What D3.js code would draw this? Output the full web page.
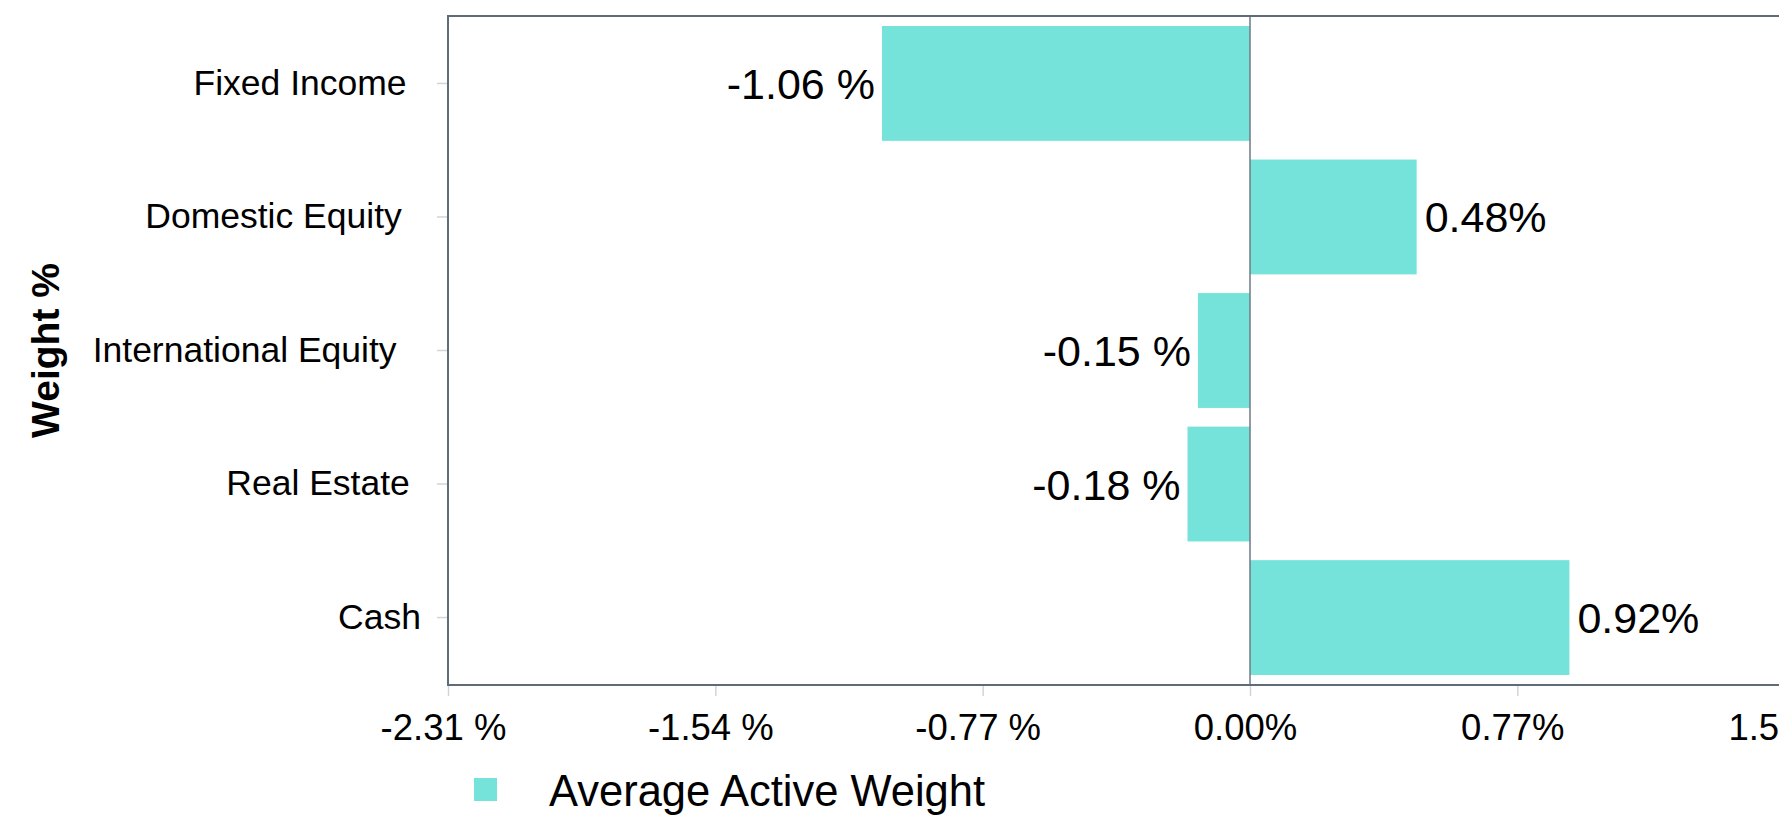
<!DOCTYPE html>
<html>
<head>
<meta charset="utf-8">
<script src="https://cdn.jsdelivr.net/npm/d3@7/dist/d3.min.js"></script>
<style>
  html, body { margin: 0; padding: 0; background: #fff; overflow: hidden; }
  svg { display: block; font-family: "Liberation Sans", Arial, Helvetica, sans-serif; }
</style>
</head>
<body>
<svg id="chart" width="2100" height="817"></svg>
<script>
const categories = ["Fixed Income", "Domestic Equity", "International Equity", "Real Estate", "Cash"];
const values = [-1.06, 0.48, -0.15, -0.18, 0.92];
const tickValues = [-2.31, -1.54, -0.77, 0, 0.77, 1.54, 2.31];
const tickLabels = ["-2.31 %", "-1.54 %", "-0.77 %", "0.00%", "0.77%", "1.54%", "2.31%"];
const seriesName = "Average Active Weight";
const yTitle = "Weight %";

const fmt = v => v < 0 ? v.toFixed(2) + " %" : v.toFixed(2) + "%";

const svg = d3.select("#chart");
const margin = { left: 448, top: 16, right: 48, bottom: 132 };
const W = 2100, H = 817;
const plotW = W - margin.left - margin.right;
const plotH = H - margin.top - margin.bottom;

const x = d3.scaleLinear().domain([-2.31, 2.31]).range([margin.left, margin.left + plotW]);
const y = d3.scaleBand().domain(categories).range([margin.top, margin.top + plotH])
  .paddingInner(0.14).paddingOuter(0.075);

const color = "#75e3d9";
const borderColor = "#5f6b78";

// bars
svg.append("g").selectAll("rect").data(values).join("rect")
  .attr("x", d => x(Math.min(0, d)))
  .attr("width", d => Math.abs(x(d) - x(0)))
  .attr("y", (d, i) => y(categories[i]))
  .attr("height", y.bandwidth())
  .attr("fill", color);

// zero line
svg.append("line")
  .attr("x1", x(0)).attr("x2", x(0))
  .attr("y1", margin.top).attr("y2", margin.top + plotH)
  .attr("stroke", "#6e7a86").attr("stroke-width", 1.5);

// plot border
svg.append("rect")
  .attr("x", margin.left).attr("y", margin.top)
  .attr("width", plotW).attr("height", plotH)
  .attr("fill", "none").attr("stroke", borderColor).attr("stroke-width", 2);

// x axis
const xAxis = d3.axisBottom(x).tickValues(tickValues)
  .tickFormat((d, i) => tickLabels[i]).tickSize(10).tickPadding(18);
const gx = svg.append("g").attr("transform", `translate(0,${margin.top + plotH + 1})`).call(xAxis);
gx.select(".domain").remove();
gx.selectAll(".tick line").attr("stroke", "#d4d4d4").attr("stroke-width", 1.5);
gx.selectAll(".tick text").attr("fill", "#000").style("font-size", "36.5px").attr("dx", -5);

// y axis
const yAxis = d3.axisLeft(y).tickSize(10).tickPadding(21);
const gy = svg.append("g").attr("transform", `translate(${margin.left - 1},0)`).call(yAxis);
gy.select(".domain").remove();
gy.selectAll(".tick line").attr("stroke", "#d4d4d4").attr("stroke-width", 1.5);
gy.selectAll(".tick text").attr("fill", "#000").style("font-size", "35.5px")
  .each(function() {
    const t = d3.select(this);
    const len = this.getComputedTextLength();
    t.attr("text-anchor", "start").attr("x", -17 - 1.11 * len);
  });

// value labels
svg.append("g").selectAll("text").data(values).join("text")
  .attr("x", d => d < 0 ? x(d) - 7 : x(d) + 8)
  .attr("y", (d, i) => y(categories[i]) + y.bandwidth() / 2)
  .attr("dy", "0.36em")
  .attr("text-anchor", d => d < 0 ? "end" : "start")
  .style("font-size", "43px")
  .attr("fill", "#000")
  .text(d => fmt(d));

// y title
svg.append("text")
  .attr("transform", `translate(${48 + 11},${margin.top + plotH / 2}) rotate(-90)`)
  .attr("text-anchor", "middle")
  .style("font-size", "39px").style("font-weight", "bold")
  .attr("fill", "#000")
  .text(yTitle);

// legend
const lg = svg.append("g").attr("transform", "translate(474,778)");
lg.append("rect").attr("width", 23).attr("height", 23).attr("fill", color);
lg.append("text").attr("x", 75).attr("y", 12).attr("dy", "0.36em")
  .style("font-size", "43.5px").attr("fill", "#000").text(seriesName);
</script>
</body>
</html>
